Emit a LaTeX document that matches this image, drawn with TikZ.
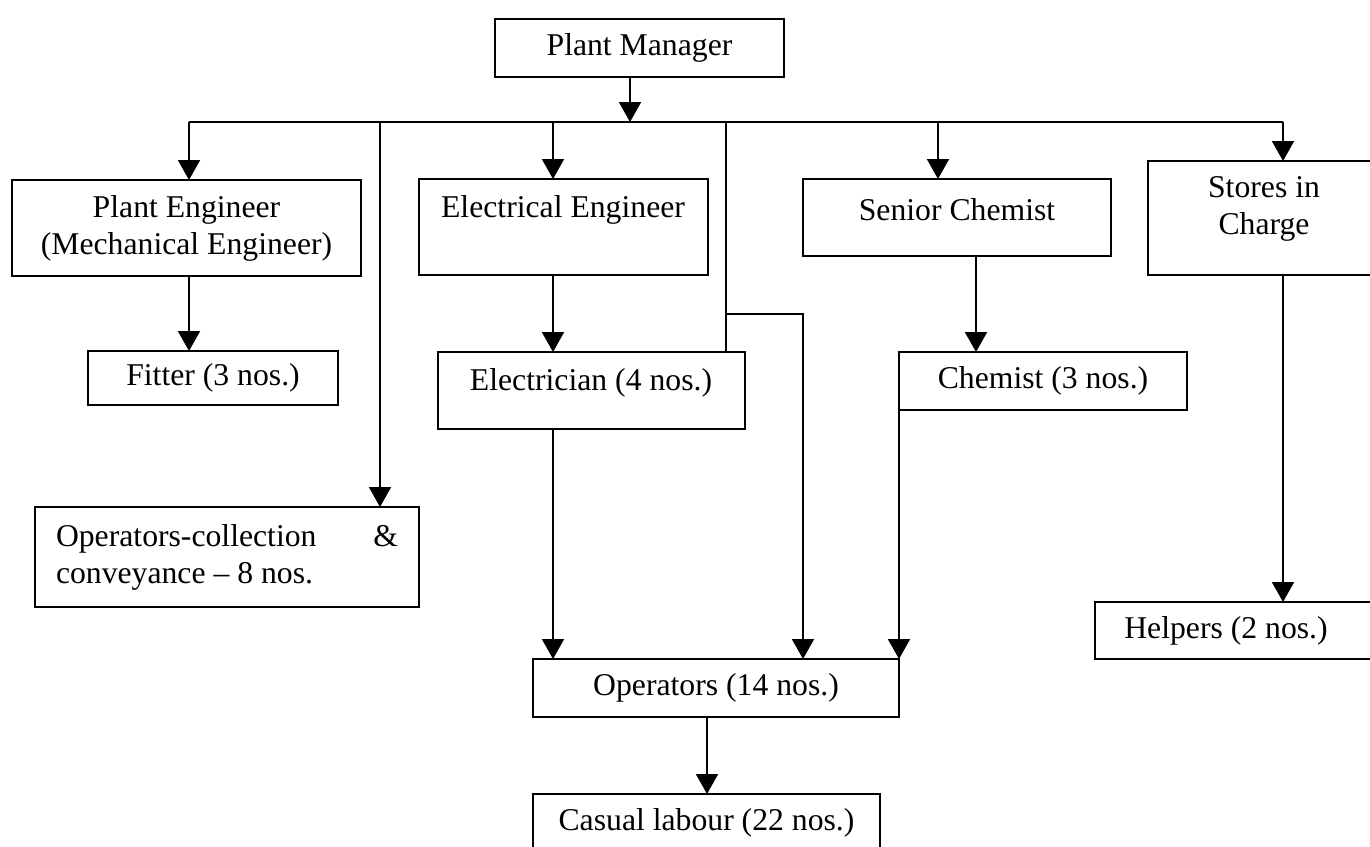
\documentclass[tikz,border=0pt]{standalone}
\usepackage{fontspec}
\setmainfont{Liberation Serif}
\usetikzlibrary{arrows.meta}
\begin{document}
\begin{tikzpicture}[x=1pt,y=-1pt,
  box/.style={draw,line width=2pt,inner sep=0pt,outer sep=0pt,anchor=north west,
    font=\fontsize{31.7}{37}\selectfont,align=center},
  txt/.style={inner sep=0pt,font=\fontsize{31.7}{37}\selectfont,align=center},
  arr/.style={line width=2pt,-{Triangle[length=20pt,width=22pt]}},
  ln/.style={line width=2pt}]
\useasboundingbox (0,0) rectangle (1370,846);

% boxes
\node[box,minimum width=289pt,minimum height=58pt] (pm) at (495,19) {Plant Manager};
\node[box,minimum width=349pt,minimum height=96pt] (pe) at (12,180) {Plant Engineer\\(Mechanical Engineer)};
\node[box,minimum width=289pt,minimum height=96pt] (ee) at (419,179) {};
\node[box,minimum width=308pt,minimum height=77pt] (sc) at (803,179) {};
\node[box,minimum width=242pt,minimum height=114pt] (st) at (1148,161) {};
\node[box,minimum width=250pt,minimum height=54pt] (fi) at (88,351) {Fitter (3 nos.)};
\node[box,minimum width=307pt,minimum height=77pt] (el) at (438,352) {};
\node[box,minimum width=288pt,minimum height=58pt] (ch) at (899,352) {Chemist (3 nos.)};
\node[box,text width=342pt,inner xsep=21pt,minimum height=100pt,align=flush left] (oc) at (35,507)
  {\makebox[342pt][l]{Operators-collection\hfill\&}\\\makebox[342pt][l]{conveyance – 8 nos.}};
\node[box,minimum width=295pt,minimum height=57pt] (he) at (1095,602) {};
\node[box,minimum width=366pt,minimum height=58pt] (op) at (533,659) {Operators (14 nos.)};
\node[box,minimum width=347pt,minimum height=58pt] (ca) at (533,794) {Casual labour (22 nos.)};

% texts placed off-centre in their boxes
\node[txt] (eet) at (563,210) {Electrical Engineer};
\node[txt] (sct) at (957,210) {Senior Chemist};
\node[txt] (stt) at (1264,209) {Stores in\\Charge};
\node[txt] (elt) at (591,383) {Electrician (4 nos.)};
\node[txt] (het) at (1226,631) {Helpers (2 nos.)};

% columns and rows
\coordinate (hl) at (0,122);
\coordinate (br) at (0,314);
\coordinate (c189) at (189,0);
\coordinate (c380) at (380,0);
\coordinate (c553) at (553,0);
\coordinate (c630) at (630,0);
\coordinate (c707) at (707,0);
\coordinate (c726) at (726,0);
\coordinate (c803) at (803,0);
\coordinate (c938) at (938,0);
\coordinate (c976) at (976,0);
\coordinate (c1283) at (1283,0);

% connectors
\draw[ln] (hl -| c189) -- (hl -| c1283);
\draw[arr] (pm.south -| c630) -- (hl -| c630);
\draw[arr] (hl -| c189) -- (pe.north -| c189);
\draw[arr] (hl -| c380) -- (oc.north -| c380);
\draw[arr] (hl -| c553) -- (ee.north -| c553);
\draw[ln] (hl -| c726) -- (el.north -| c726);
\draw[arr] (hl -| c938) -- (sc.north -| c938);
\draw[arr] (hl -| c1283) -- (st.north -| c1283);
\draw[arr] (pe.south -| c189) -- (fi.north -| c189);
\draw[arr] (ee.south -| c553) -- (el.north -| c553);
\draw[arr] (sc.south -| c976) -- (ch.north -| c976);
\draw[arr] (el.south -| c553) -- (op.north -| c553);
\draw[arr] (br -| c726) -- (br -| c803) -- (op.north -| c803);
\draw[arr] (ch.south west) -- (ch.south west |- op.north);
\draw[arr] (st.south -| c1283) -- (he.north -| c1283);
\draw[arr] (op.south -| c707) -- (ca.north -| c707);
\end{tikzpicture}
\end{document}
